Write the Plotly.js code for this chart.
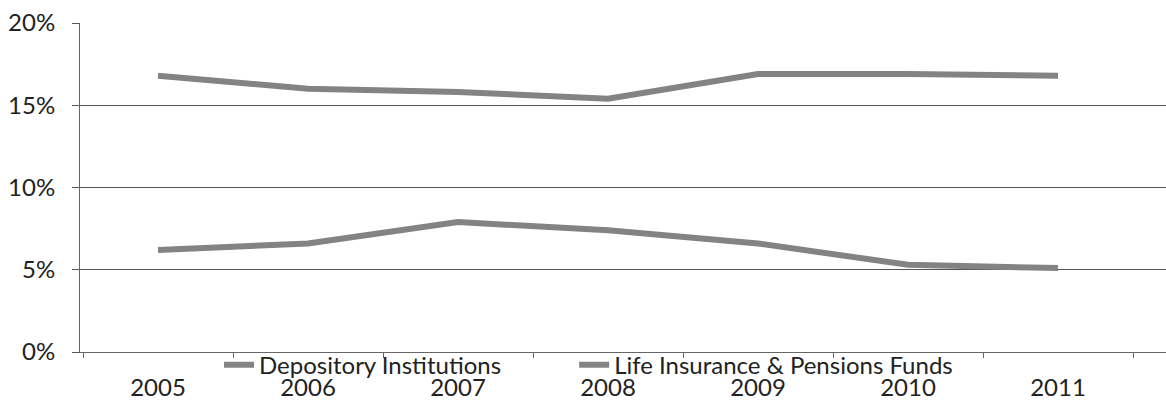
<!DOCTYPE html>
<html>
<head>
<meta charset="utf-8">
<script src="https://cdn.plot.ly/plotly-3.0.1.min.js"></script>
<style>html,body{margin:0;padding:0;background:#fff;}#chart{width:1166px;height:400px;}</style>
</head>
<body>
<div id="chart"></div>
<script>
const years = ['2005','2006','2007','2008','2009','2010','2011'];
const depository = [0.062, 0.066, 0.079, 0.074, 0.066, 0.053, 0.051];
const lifeInsurance = [0.168, 0.160, 0.158, 0.154, 0.169, 0.169, 0.168];
const seriesNames = ['Depository Institutions', 'Life Insurance & Pensions Funds'];
const yTicks = [0, 0.05, 0.10, 0.15, 0.20];

const lineStyle = {color: '#838383', width: 6};
const traces = [
  {x: years, y: depository, name: seriesNames[0], type: 'scatter', mode: 'lines', line: lineStyle, legend: 'legend'},
  {x: years, y: lifeInsurance, name: seriesNames[1], type: 'scatter', mode: 'lines', line: lineStyle, legend: 'legend2'}
];

const legendBase = {
  orientation: 'h', xanchor: 'left', y: -0.04, yanchor: 'middle',
  bgcolor: 'rgba(0,0,0,0)', font: {size: 24, color: '#222'}
};

const layout = {
  width: 1166, height: 400,
  margin: {l: 80, r: 0, t: 23, b: 48},
  paper_bgcolor: '#fff', plot_bgcolor: '#fff',
  font: {family: 'Lato, "Open Sans", sans-serif', size: 24, color: '#222'},
  showlegend: true,
  legend: Object.assign({}, legendBase, {x: 0.128}),
  legend2: Object.assign({}, legendBase, {x: 0.455}),
  xaxis: {
    type: 'category', range: [-0.52, 6.72],
    showgrid: false, zeroline: false,
    showline: true, linecolor: '#666', linewidth: 1,
    ticks: 'outside', ticklen: 5, tickcolor: '#666', tickson: 'boundaries',
    ticklabelstandoff: 14,
    tickfont: {size: 24, color: '#222'}
  },
  yaxis: {
    range: [0, 0.2], tickvals: yTicks, tickformat: '.0%',
    showgrid: true, gridcolor: '#555', gridwidth: 1,
    zeroline: false,
    showline: true, linecolor: '#666', linewidth: 1,
    ticks: 'outside', ticklen: 7, tickcolor: '#555',
    ticklabelstandoff: 12,
    tickfont: {size: 24, color: '#222'}
  }
};

Plotly.newPlot('chart', traces, layout, {displayModeBar: false, staticPlot: true});
</script>
</body>
</html>
